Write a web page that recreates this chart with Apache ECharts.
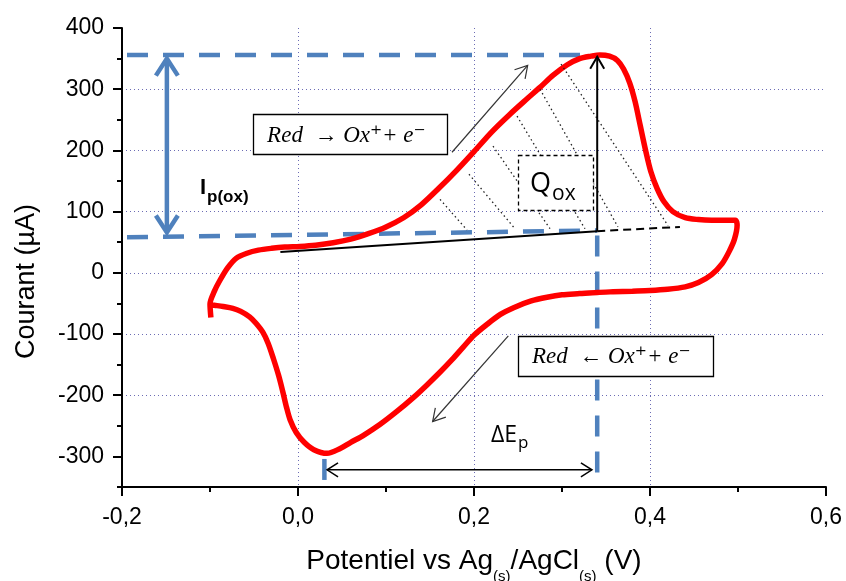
<!DOCTYPE html>
<html>
<head>
<meta charset="utf-8">
<script src="https://cdn.jsdelivr.net/npm/echarts@6/dist/echarts.min.js"></script>
<style>
html,body{margin:0;padding:0;background:#fff;}
#chart{width:846px;height:581px;}
</style>
</head>
<body>
<div id="chart"></div>
<script>
// ---------- data ----------
const potential = [-0.099,-0.100,-0.095,-0.089,-0.080,-0.070,-0.058,-0.045,-0.030,-0.015,0.002,0.020,0.040,0.060,0.080,0.100,0.120,0.140,0.160,0.180,0.200,0.220,0.240,0.260,0.275,0.290,0.306,0.320,0.333,0.343,0.354,0.363,0.370,0.377,0.383,0.389,0.395,0.401,0.408,0.416,0.426,0.440,0.455,0.470,0.485,0.497,
  0.499,0.496,0.490,0.482,0.470,0.455,0.440,0.420,0.400,0.380,0.358,0.340,0.320,0.300,0.283,0.265,0.245,0.230,0.215,0.200,0.188,0.175,0.161,0.146,0.131,0.112,0.093,0.074,0.060,0.048,0.033,0.018,0.007,-0.002,-0.009,-0.013,-0.017,-0.022,-0.028,-0.034,-0.040,-0.048,-0.055,-0.065,-0.074,-0.085,-0.095,-0.100];
const current = [-73,-51,-30,-13,8,24,32,37,40,42,43,45,49,55,64,75,90,111,138,167,198,230,258,284,303,323,340,350,354,356,354,347,333,310,280,240,200,165,138,116,100,90,87,86,86,86,
  78,55,35,15,-3,-16,-23,-27,-29,-30,-31,-32,-34,-36,-40,-46,-57,-68,-84,-102,-121,-142,-163,-184,-204,-227,-248,-266,-277,-287,-295,-289,-277,-261,-240,-220,-196,-168,-140,-115,-97,-82,-72,-63,-58,-55,-53,-52];

const xTicks = [-0.2, 0, 0.2, 0.4, 0.6];
const yTicks = [-300, -200, -100, 0, 100, 200, 300, 400];
const yMinorTicks = [-350, -250, -150, -50, 50, 150, 250, 350];

// annotation geometry in data units (V, µA)
const peakLevelLine = [[-0.2, 356], [0.335, 356]];
const baseLevelLine = [[-0.2, 58], [0.34, 69]];
const peakPotentialLine = [[0.34, 69], [0.34, -350]];
const cathodicPeakLine = [[0.03, -296], [0.03, -350]];
const ipArrow = [[-0.149, 350], [-0.149, 66]];
const qArrow = [[0.34, 68], [0.34, 353]];
const baselineSolid = [[-0.02, 34], [0.34, 68]];
const baselineDashed = [[0.34, 68], [0.434, 75]];
const deltaEArrow = [[0.033, -322], [0.334, -322]];
const scanArrowOx = [[0.175, 197], [0.261, 339]];
const scanArrowRed = [[0.239, -103], [0.153, -243]];
const hatchLines = [
  [[0.1614, 120], [0.1920, 70]],
  [[0.1943, 161], [0.2466, 72]],
  [[0.2216, 207], [0.2864, 72]],
  [[0.2489, 256], [0.3261, 72]],
  [[0.2750, 300], [0.3636, 75]],
  [[0.2989, 341], [0.4205, 77]]
];
const boxOx = [[-0.051, 259], [0.170, 193]];
const boxRed = [[0.250, -103], [0.472, -169]];
const boxQ = [[0.250, 192], [0.335, 102]];
const textOx = 'Red  \u2192 Ox\u207A+ e\u207B';
const textRed = 'Red  \u2190 Ox\u207A+ e\u207B';
const labelIp = { at: [-0.1045, 138], main: 'I', sub: 'p(ox)' };
const labelQ = { at: [0.2875, 144], main: 'Q', sub: 'ox' };
const labelDeltaE = { at: [0.2489, -266], main: '\u0394E', sub: 'p' };

// ---------- helpers ----------
function chevron(tip, from, len, half) {
  const dx = tip[0] - from[0], dy = tip[1] - from[1];
  const d = Math.hypot(dx, dy) || 1;
  const ux = dx / d, uy = dy / d;
  const bx = tip[0] - ux * len, by = tip[1] - uy * len;
  return [[bx - uy * half, by + ux * half], [tip[0], tip[1]], [bx + uy * half, by - ux * half]];
}
function lineEl(a, b, style) {
  return { type: 'line', shape: { x1: a[0], y1: a[1], x2: b[0], y2: b[1] }, style: Object.assign({ fill: null }, style) };
}
function polyEl(points, style) {
  return { type: 'polyline', shape: { points: points }, style: Object.assign({ fill: null }, style) };
}
function textEl(x, y, text, font, align, vAlign) {
  return { type: 'text', x: x, y: y, style: { text: text, font: font, fill: '#000', align: align, verticalAlign: vAlign, textAlign: align, textVerticalAlign: vAlign } };
}
function boxEl(api, box, dash) {
  const a = api.coord(box[0]), b = api.coord(box[1]);
  return { type: 'rect', shape: { x: Math.round(a[0]) + 0.5, y: Math.round(a[1]) + 0.5, width: Math.round(b[0] - a[0]), height: Math.round(b[1] - a[1]) },
    style: { fill: '#ffffff', stroke: '#000', lineWidth: 1.3, lineDash: dash || null } };
}

const BLUE = '#4f81bd';

function renderBack(params, api) {
  const children = [];
  [peakLevelLine, baseLevelLine, peakPotentialLine, cathodicPeakLine].forEach(function (ln) {
    const a = api.coord(ln[0]), b = api.coord(ln[1]);
    children.push(lineEl(a, b, { stroke: BLUE, lineWidth: 4.5, lineDash: [21, 15], lineDashOffset: -5 }));
  });
  const t = api.coord(ipArrow[0]), bt = api.coord(ipArrow[1]);
  children.push(lineEl(t, bt, { stroke: BLUE, lineWidth: 4.5 }));
  children.push(polyEl(chevron(t, bt, 17, 11), { stroke: BLUE, lineWidth: 4.5 }));
  children.push(polyEl(chevron(bt, t, 17, 11), { stroke: BLUE, lineWidth: 4.5 }));
  return { type: 'group', children: children };
}

function renderFront(params, api) {
  const children = [];
  hatchLines.forEach(function (ln) {
    const a = api.coord(ln[0]), b = api.coord(ln[1]);
    children.push(lineEl(a, b, { stroke: '#222', lineWidth: 1.3, lineDash: [1.5, 3] }));
  });
  let a = api.coord(baselineSolid[0]), b = api.coord(baselineSolid[1]);
  children.push(lineEl(a, b, { stroke: '#000', lineWidth: 2 }));
  a = api.coord(baselineDashed[0]); b = api.coord(baselineDashed[1]);
  children.push(lineEl(a, b, { stroke: '#000', lineWidth: 2, lineDash: [8, 5] }));
  children.push(boxEl(api, boxOx));
  children.push(boxEl(api, boxRed));
  children.push(boxEl(api, boxQ, [4, 3]));
  a = api.coord(qArrow[0]); b = api.coord(qArrow[1]);
  children.push(lineEl(a, b, { stroke: '#000', lineWidth: 2 }));
  children.push(polyEl(chevron(b, a, 12, 7), { stroke: '#000', lineWidth: 2 }));
  a = api.coord(deltaEArrow[0]); b = api.coord(deltaEArrow[1]);
  children.push(lineEl(a, b, { stroke: '#000', lineWidth: 1.5 }));
  children.push(polyEl(chevron(a, b, 11, 7), { stroke: '#000', lineWidth: 1.5 }));
  children.push(polyEl(chevron(b, a, 11, 7), { stroke: '#000', lineWidth: 1.5 }));
  [scanArrowOx, scanArrowRed].forEach(function (ln) {
    const p = api.coord(ln[0]), q = api.coord(ln[1]);
    children.push(lineEl(p, q, { stroke: '#333', lineWidth: 1.2 }));
    children.push(polyEl(chevron(q, p, 12, 7), { stroke: '#333', lineWidth: 1.2 }));
  });
  [[boxOx, textOx], [boxRed, textRed]].forEach(function (bt) {
    const p = api.coord(bt[0][0]), q = api.coord(bt[0][1]);
    children.push(textEl(p[0] + 14, (p[1] + q[1]) / 2 + 1, bt[1], 'italic 23px "Liberation Serif", "DejaVu Serif", serif', 'left', 'middle'));
  });
  let p = api.coord(labelIp.at);
  children.push(textEl(p[0], p[1], labelIp.main, 'bold 22px "Liberation Sans", Arial, sans-serif', 'right', 'middle'));
  children.push(textEl(p[0] + 1, p[1] + 9, labelIp.sub, 'bold 17px "Liberation Sans", Arial, sans-serif', 'left', 'middle'));
  p = api.coord(labelQ.at);
  children.push(textEl(p[0], p[1], labelQ.main, '27px "Open Sans", "Noto Sans", sans-serif', 'right', 'middle'));
  children.push(textEl(p[0] + 1, p[1] + 9, labelQ.sub, '21px "Open Sans", "Noto Sans", sans-serif', 'left', 'middle'));
  p = api.coord(labelDeltaE.at);
  children.push(textEl(p[0], p[1], labelDeltaE.main, '23px "Open Sans", "Noto Sans", sans-serif', 'right', 'middle'));
  children.push(textEl(p[0] + 1, p[1] + 8, labelDeltaE.sub, '17px "Open Sans", "Noto Sans", sans-serif', 'left', 'middle'));
  return { type: 'group', children: children };
}

// ---------- chart ----------
const chart = echarts.init(document.getElementById('chart'), null, { renderer: 'canvas' });
const axisFont = '"Liberation Sans", Arial, sans-serif';
const gridLine = { show: true, showMinLine: false, showMaxLine: false, lineStyle: { color: '#6c6cb4', width: 1, type: [1, 3] } };

chart.setOption({
  animation: false,
  backgroundColor: '#ffffff',
  grid: { left: 122, right: 20, top: 28, bottom: 94, containLabel: false, outerBoundsMode: 'none' },
  xAxis: {
    type: 'value', min: -0.2, max: 0.6, interval: 0.2,
    name: '{a|Potentiel vs Ag}{b|(s)}{a|/AgCl}{b|(s)}{a| (V)}',
    nameLocation: 'middle', nameGap: 60,
    nameTextStyle: {
      color: '#000', fontFamily: axisFont, fontSize: 28,
      rich: {
        a: { color: '#000', fontFamily: axisFont, fontSize: 28, verticalAlign: 'top' },
        b: { color: '#000', fontFamily: axisFont, fontSize: 15, verticalAlign: 'top', padding: [22, 0, 0, 0] }
      }
    },
    axisLine: { show: true, onZero: false, lineStyle: { color: '#000', width: 2 } },
    axisTick: { show: true, inside: false, length: 9, lineStyle: { color: '#000', width: 2 }, customValues: xTicks },
    minorTick: { show: true, splitNumber: 2, length: 5, lineStyle: { color: '#000', width: 2 } },
    axisLabel: { color: '#000', fontFamily: axisFont, fontSize: 23, margin: 19, customValues: xTicks,
      formatter: function (v) { return v.toFixed(1).replace('.', ','); } },
    splitLine: gridLine
  },
  yAxis: [{
    type: 'value', min: -350, max: 400, interval: 50,
    name: 'Courant (\u00B5A)', nameLocation: 'middle', nameGap: 82,
    nameTextStyle: { color: '#000', fontFamily: axisFont, fontSize: 27, padding: [0, 48, 0, 0] },
    axisLine: { show: true, onZero: false, lineStyle: { color: '#000', width: 2 } },
    axisTick: { show: true, inside: false, length: 9, lineStyle: { color: '#000', width: 2 }, customValues: yTicks },
    axisLabel: { color: '#000', fontFamily: axisFont, fontSize: 23, margin: 18, customValues: yTicks },
    splitLine: gridLine
  }, {
    type: 'value', min: -350, max: 400, interval: 50, position: 'left', offset: 0,
    axisLine: { show: false, onZero: false },
    axisTick: { show: true, inside: false, length: 5, lineStyle: { color: '#000', width: 2 }, customValues: yMinorTicks },
    axisLabel: { show: false },
    splitLine: { show: false }
  }],
  series: [
    { type: 'custom', name: 'levels', coordinateSystem: 'cartesian2d', xAxisIndex: 0, yAxisIndex: 0,
      data: [[0, 0]], renderItem: renderBack, silent: true, z: 1, clip: false },
    { type: 'line', name: 'CV', xAxisIndex: 0, yAxisIndex: 0,
      data: potential.map(function (v, i) { return [v, current[i]]; }),
      smooth: 0.3, showSymbol: false, symbol: 'none',
      lineStyle: { color: '#ff0000', width: 5.5 }, z: 2, silent: true },
    { type: 'custom', name: 'annotations', coordinateSystem: 'cartesian2d', xAxisIndex: 0, yAxisIndex: 0,
      data: [[0, 0]], renderItem: renderFront, silent: true, z: 3, clip: false }
  ]
});
</script>
</body>
</html>
